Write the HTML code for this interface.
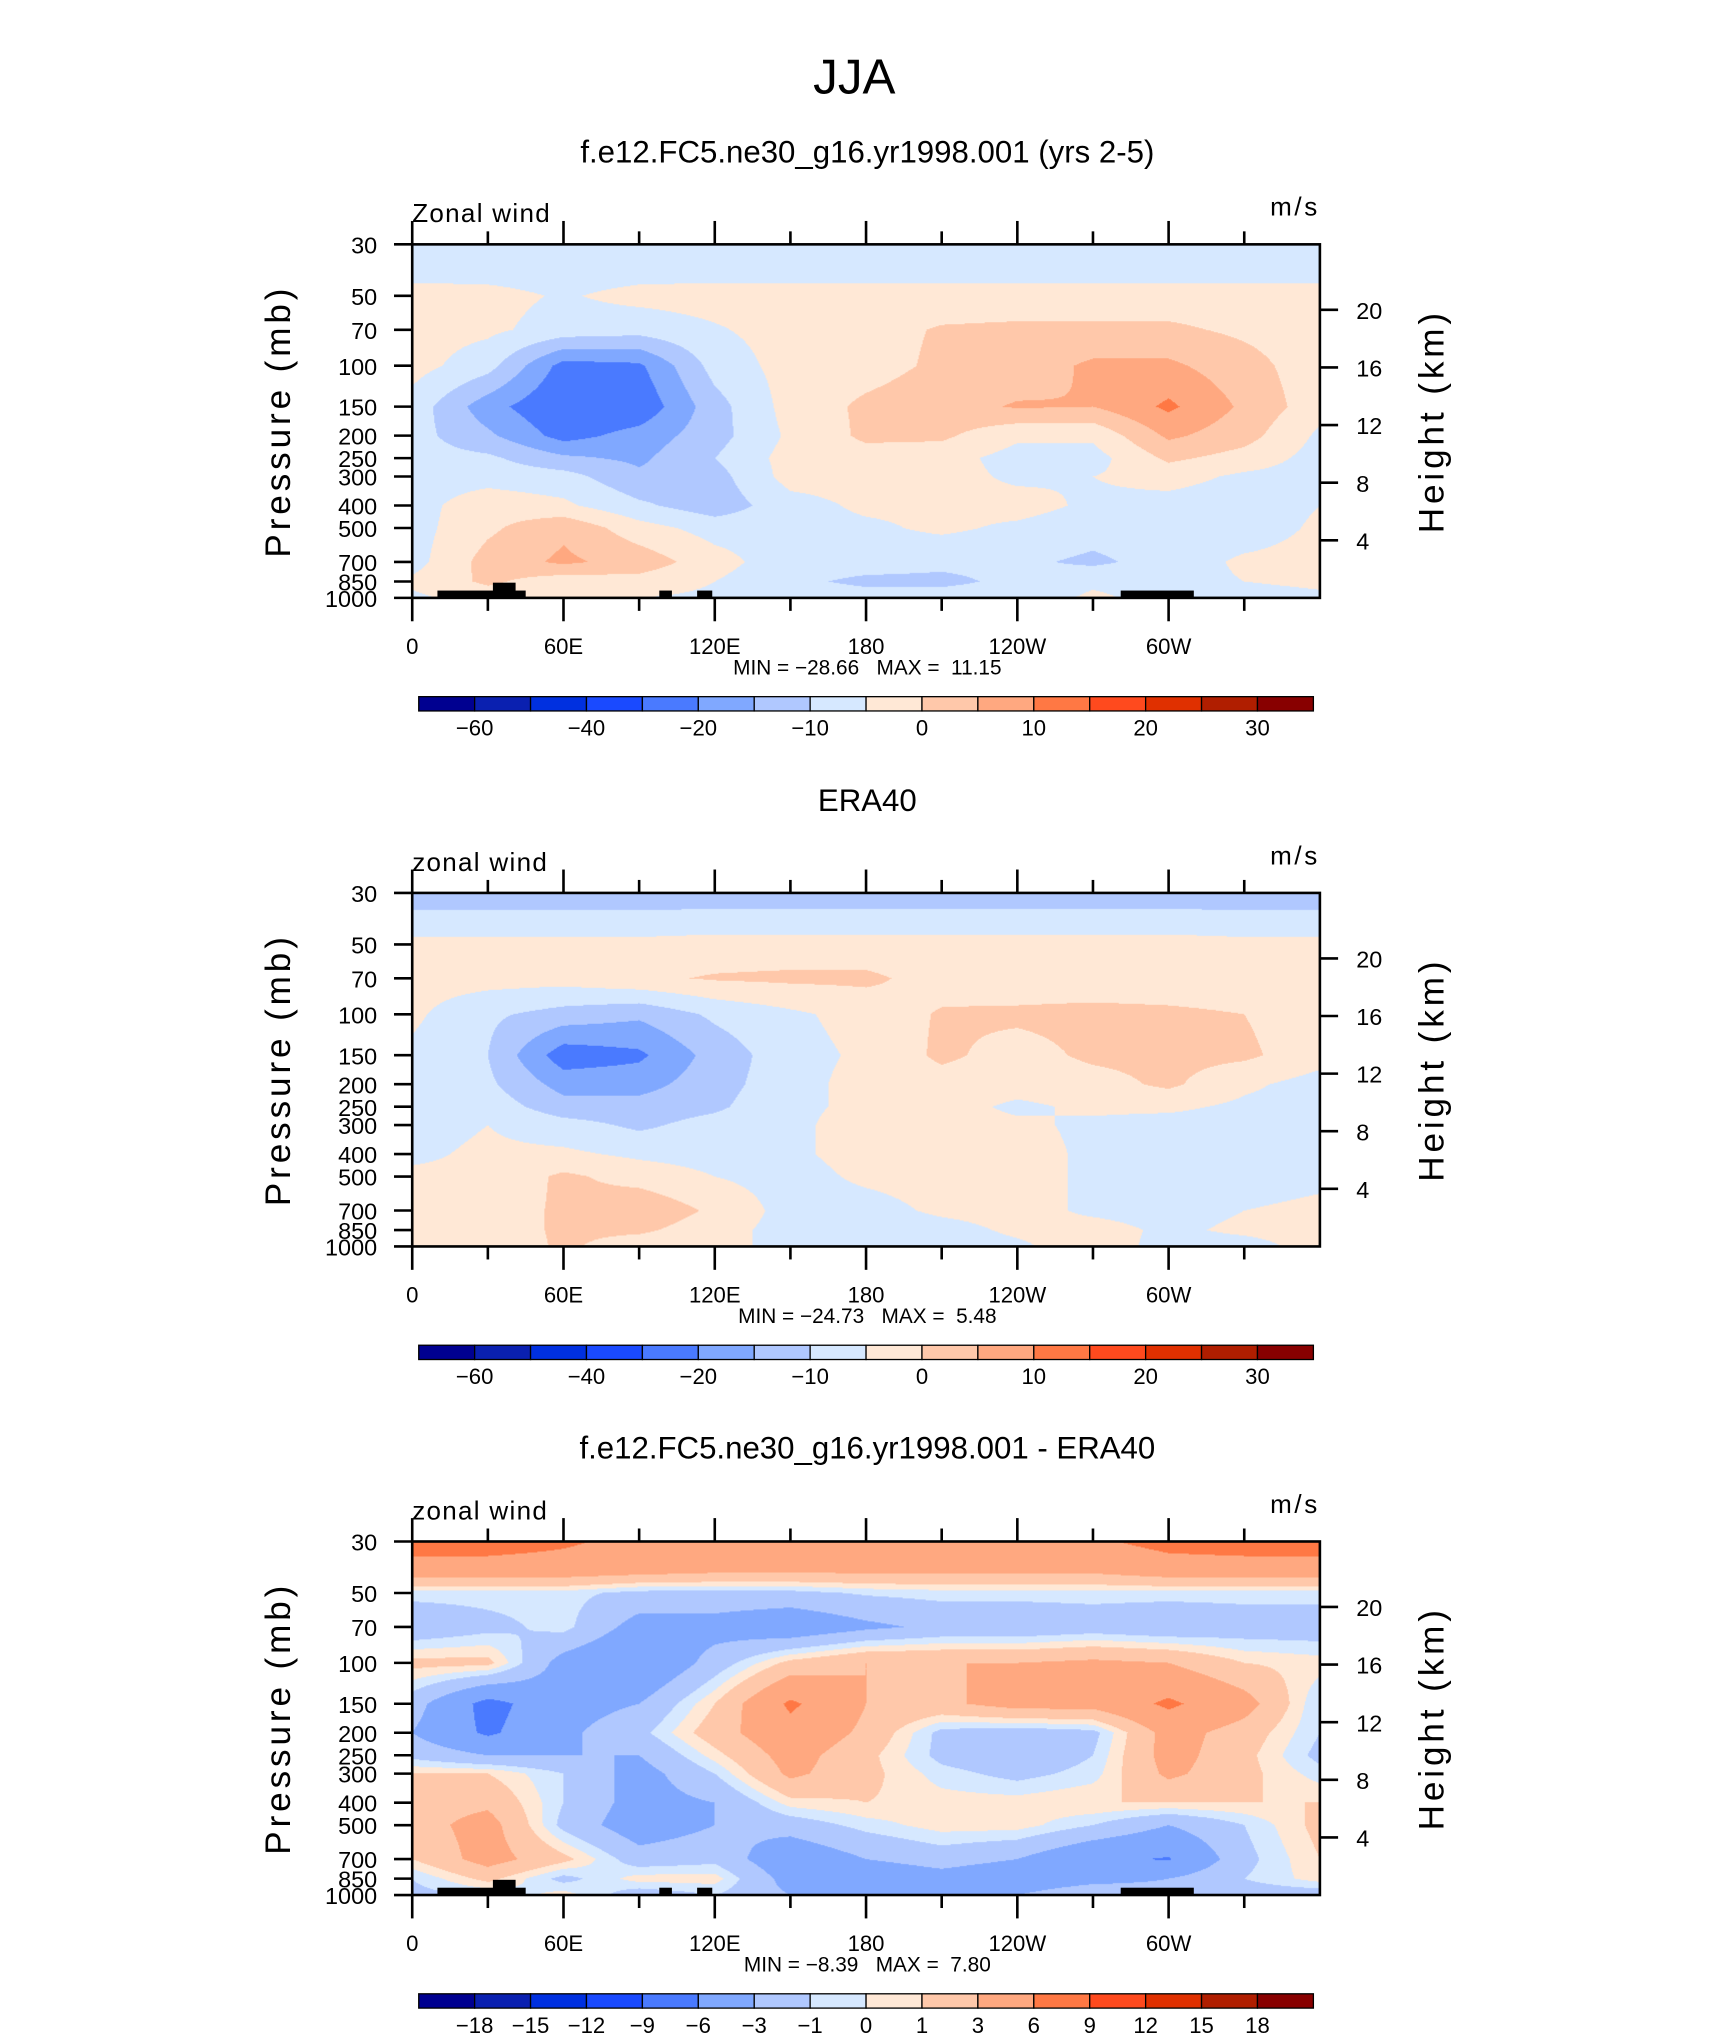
<!DOCTYPE html>
<html><head><meta charset="utf-8">
<style>
html,body{margin:0;padding:0;background:#fff;}
#wrap{position:relative;width:1315px;height:1568px;transform:scale(1.30038,1.29974);transform-origin:0 0;}
svg{position:absolute;left:0;top:0;}
canvas{position:absolute;}
text{font-family:"Liberation Sans",sans-serif;fill:#000;}
</style></head>
<body>
<div id="wrap">
<canvas id="c0"></canvas>
<canvas id="c1"></canvas>
<canvas id="c2"></canvas>
<svg id="svg" width="1315" height="1568" viewBox="0 0 1315 1568"></svg>
</div>
<script>
// ---- data ----
const lons = [0,30,60,90,120,150,180,210,240,270,300,330,360];
const plevs = [30,40,50,70,100,150,200,250,300,400,500,700,850,1000];
const levelsA = [-60,-50,-40,-30,-20,-15,-10,-5,0,5,10,15,20,25,30];
const levelsC = [-18,-15,-12,-9,-6,-3,-1,0,1,3,6,9,12,15,18];
const labelsA = ["-60","","-40","","-20","","-10","","0","","10","","20","","30"];
const labelsC = ["-18","-15","-12","-9","-6","-3","-1","0","1","3","6","9","12","15","18"];
const xTickLabels = ["0","60E","120E","180","120W","60W"];
const pTicks = [30,50,70,100,150,200,250,300,400,500,700,850,1000];
const hTicks = [20,16,12,8,4];
const colors = ["#000090","#0a20b0","#0030e0","#1a4aff","#4a7aff","#80a8ff","#b0c8ff","#d6e8ff","#ffe8d6","#ffc8aa","#ffa880","#ff7844","#ff4a1e","#e03000","#b01e00","#880000"];
const titles = ["f.e12.FC5.ne30_g16.yr1998.001 (yrs 2-5)","ERA40","f.e12.FC5.ne30_g16.yr1998.001 - ERA40"];
const leftTitles = ["Zonal wind","zonal wind","zonal wind"];
const minVals = ["-28.66","-24.73","-8.39"];
const maxVals = ["11.15","5.48","7.80"];
// rows: plevs, cols: lons
const model = [
[-7,-7,-7,-7,-7,-7,-7,-7,-7,-7,-7,-7,-7],
[-6.5,-6.5,-7,-6.5,-6.5,-6.5,-6.5,-6.5,-6.5,-6.5,-6.5,-6.5,-6.5],
[-3,-3.5,-5.5,-3.5,-3,-3,-3,-3,-3,-3,-3,-3,-3],
[-3,-4,-7,-8,-5.5,-3,-2,0.5,1,1,1,-1,-3],
[-3,-8,-22,-21,-8,-3,-2,1,2,6,6,2,-3],
[-7,-18,-25,-24,-12,-3,1,3,5.5,5,11,4,-3],
[-8,-14,-22,-18,-12,-4,1,1,-4,-4,6,2,-6],
[-8,-9,-14,-16,-10,-3,-2,-3,-7,-7,1,-2,-7],
[-7,-7,-8,-14,-12,-3,-3,-3,-6,-5,-3,-6,-7],
[-7,-2,-4,-9,-13,-7,-4,-4,-3,-6,-7,-8,-5],
[-7,-1,4,-3,-7,-7,-6,-4,-6,-8,-7,-8,-4],
[-7,2,6,3,-3,-8,-8,-9,-9,-11,-8,-4,-3],
[-4,1,-3,-2,-5,-9,-11,-11,-9,-6,-7,-5,-4],
[-6,-3,-4,-5,-6,-7,-8,-8,-8,-4,-7,-7,-6]];
const era = [
[-13,-13,-13,-13,-13,-13,-13,-13,-13,-13,-13,-13,-13],
[-8,-8,-8,-8,-7.5,-7.5,-7.5,-7.5,-7.5,-7.5,-7.5,-8,-8],
[-3.5,-3.5,-3.5,-3.5,-3,-3,-3,-3,-3,-3,-3,-3.5,-3.5],
[-3,-3,-3,-1,0.5,1,1,-2,-3,-3,-3,-3,-3],
[-4,-9,-12,-14,-9,-6,-3,0.5,1,1.5,1,0,-3],
[-6,-10,-23,-21,-13,-7,-4,1,-2,1,1.5,1,-3],
[-7,-9,-17,-17,-12,-7,-3,-2,-3,-2,1,-4,-7],
[-7,-7,-13,-13,-11,-6,-4,-3,-6,-4,-4,-6,-7],
[-7,-5,-8,-11,-8,-6,-3,-3,-4,-6,-7,-7,-7],
[-6,-4,-4,-6,-7,-6,-3,-3,-3,-6,-7,-7,-7],
[-4,-4,1,-2,-5,-7,-4,-3,-3,-6,-7,-7,-6],
[-4,-3,1,4,-1,-7,-7,-4,-3,-6,-7,-5,-4],
[-2,-3,1,1,-3,-7,-8,-7,-4,-3,-6,-4,-3],
[-3,-4,1,-3,-4,-6,-8,-8,-6,-2,-7,-7,-3]];
const diff = [
[7.5,7.5,6.5,5,4.5,4.5,4.5,4.5,4.5,5.5,7,7.5,7.5],
[4.5,4.5,4.5,4,3.5,3.5,3.5,3.5,3.5,3.5,4.5,4.5,4.5],
[-0.5,-0.5,-0.5,-1.5,-1.5,-1.5,-0.8,-0.5,-0.5,-0.5,-0.5,-0.5,-0.5],
[-2.5,-1.5,-0.5,-4,-4,-5,-3.5,-2.5,-2.5,-2,-2.5,-2,-2],
[1.5,1.5,-4,-6,-2,1.5,3,3,3,3.5,3,1,0.5],
[-2,-7,-4,-3,1,6.5,3,2.5,4,4,6.5,4,-1],
[-3,-6.5,-3.5,-1.5,2,5,2.5,-1.5,-2,-1.5,4,2,-1],
[-1.5,-3,-3,-3,0.5,4,1.5,-1.5,-2.5,-1,4,1.5,-1.5],
[1,1,-1,-4,-1,3.5,1.5,-0.5,-1.5,-0.5,3.5,1.5,-0.5],
[2,2.5,-1,-4,-3,0.5,1,0.5,0.5,1,1,1,1],
[2,4,-1.5,-4.5,-3,-2,-0.5,0.5,0.5,-1,-3,-1,1.5],
[1,4,1.5,-2,-1.5,-5,-3,-2,-3,-5.5,-6.2,-1.5,1],
[-1,1.5,-1.5,0.5,0.5,-4,-5,-4,-5,-4,-3,-1,0.5],
[-1.5,-1,0.5,-2,-1,-3,-3.5,-3.5,-3,-1,-2,-2,-2]];
const topoLon = [10,30,41,98,113,281,310];
// ---- geometry ----
const X0=317,X1=1015,PH=272,TOP=188;
const offsets=[0,499,998];
const LP=Math.log(1000/30);
function xOf(lon){return X0+(X1-X0)*lon/360;}
function yOf(p,dy){return TOP+dy+PH*Math.log(p/30)/LP;}
const svg=document.getElementById('svg');
const NS="http://www.w3.org/2000/svg";
function el(tag,attrs,txt){const e=document.createElementNS(NS,tag);for(const k in attrs)e.setAttribute(k,attrs[k]);if(txt!==undefined)e.textContent=txt;svg.appendChild(e);return e;}
function boxIndex(v,lev){let i=0;while(i<lev.length&&v>=lev[i])i++;return i;}
function interp(grid,lon,p){
  let ci=Math.min(Math.floor(lon/30),11);let fx=(lon-lons[ci])/30;
  let ri=0;while(ri<plevs.length-2&&p>plevs[ri+1])ri++;
  let fy=Math.log(p/plevs[ri])/Math.log(plevs[ri+1]/plevs[ri]);fy=Math.max(0,Math.min(1,fy));
  const a=grid[ri][ci],b=grid[ri][ci+1],c=grid[ri+1][ci],d=grid[ri+1][ci+1];
  return (a*(1-fx)+b*fx)*(1-fy)+(c*(1-fx)+d*fx)*fy;
}
const grids=[model,era,diff];
const levs=[levelsA,levelsA,levelsC];
const rgb=colors.map(h=>[parseInt(h.substr(1,2),16),parseInt(h.substr(3,2),16),parseInt(h.substr(5,2),16)]);
for(let k=0;k<3;k++){
  const dy=offsets[k];
  const cv=document.getElementById('c'+k);
  const S=1.3,W=Math.round((X1-X0)*S),H=Math.round(PH*S);
  cv.width=W;cv.height=H;cv.style.left=X0+'px';cv.style.top=(TOP+dy)+'px';cv.style.width=(X1-X0)+'px';cv.style.height=PH+'px';
  const ctx=cv.getContext('2d');const img=ctx.createImageData(W,H);
  for(let j=0;j<H;j++){const p=30*Math.exp(LP*(j+0.5)/H);
    for(let i=0;i<W;i++){const lon=360*(i+0.5)/W;const v=interp(grids[k],lon,p);const c=rgb[boxIndex(v,levs[k])];const o=(j*W+i)*4;img.data[o]=c[0];img.data[o+1]=c[1];img.data[o+2]=c[2];img.data[o+3]=255;}}
  ctx.putImageData(img,0,0);
  const ty=[125,624,1122][k];
  el('text',{x:667,y:ty,'font-size':24,'text-anchor':'middle',},titles[k]);
  if(k!==1){
    const r=(a,b,top)=>el('rect',{x:xOf(a),y:yOf(top,dy),width:xOf(b)-xOf(a),height:yOf(1000,dy)-yOf(top,dy),fill:'#000',});
    r(topoLon[0],topoLon[2]+4,930);r(topoLon[1]+2,topoLon[2],860);r(topoLon[3],topoLon[3]+5,930);r(topoLon[4],topoLon[4]+6,930);r(topoLon[5],topoLon[6],930);
  }
  el('rect',{x:X0,y:TOP+dy,width:X1-X0,height:PH,fill:'none',stroke:'#000','stroke-width':2,});
  for(let lon=0;lon<360;lon+=30){const x=xOf(lon);const maj=lon%60===0;
    el('line',{x1:x,x2:x,y1:TOP+dy,y2:TOP+dy-(maj?18:10),stroke:'#000','stroke-width':2,});
    el('line',{x1:x,x2:x,y1:TOP+dy+PH,y2:TOP+dy+PH+(maj?18:10),stroke:'#000','stroke-width':2,});}
  xTickLabels.forEach((t,i)=>el('text',{x:xOf(i*60),y:TOP+dy+PH+43,'font-size':17,'text-anchor':'middle',},t));
  pTicks.forEach(p=>{const y=yOf(p,dy);el('line',{x1:X0-14,x2:X0,y1:y,y2:y,stroke:'#000','stroke-width':2,});
    el('text',{x:290,y:y+7,'font-size':18,'text-anchor':'end',},String(p));});
  hTicks.forEach(h=>{const p=1000*Math.exp(-h/7);const y=yOf(p,dy);el('line',{x1:X1,x2:X1+14,y1:y,y2:y,stroke:'#000','stroke-width':2,});
    el('text',{x:1043,y:y+7,'font-size':18,},String(h));});
  el('text',{x:0,y:0,'font-size':27,'letter-spacing':3,'text-anchor':'middle',transform:`translate(223,${324+dy}) rotate(-90)`,},'Pressure  (mb)');
  el('text',{x:0,y:0,'font-size':27,'letter-spacing':3,'text-anchor':'middle',transform:`translate(1110,${324+dy}) rotate(-90)`,},'Height  (km)');
  el('text',{x:317,y:171+dy,'font-size':20,'letter-spacing':1,},leftTitles[k]);
  el('text',{x:1015,y:166+dy,'font-size':20,'letter-spacing':2,'text-anchor':'end',},'m/s');
  el('text',{x:667,y:519+dy,'font-size':16,'text-anchor':'middle',style:'white-space:pre',},`MIN = ${minVals[k].replace('-','\u2212')}   MAX =  ${maxVals[k]}`);
  const bw=(1010-322)/16;
  for(let b=0;b<16;b++){el('rect',{x:322+b*bw,y:536+dy,width:bw,height:11,fill:colors[b],stroke:'#000','stroke-width':1,});}
  const lab=k===2?labelsC:labelsA;
  lab.forEach((t,i)=>{if(t)el('text',{x:322+(i+1)*bw,y:566+dy,'font-size':17,'text-anchor':'middle',},t.replace('-','\u2212'));});
}
el('text',{x:657,y:72,'font-size':38,'text-anchor':'middle',},'JJA');
</script>
</body></html>
